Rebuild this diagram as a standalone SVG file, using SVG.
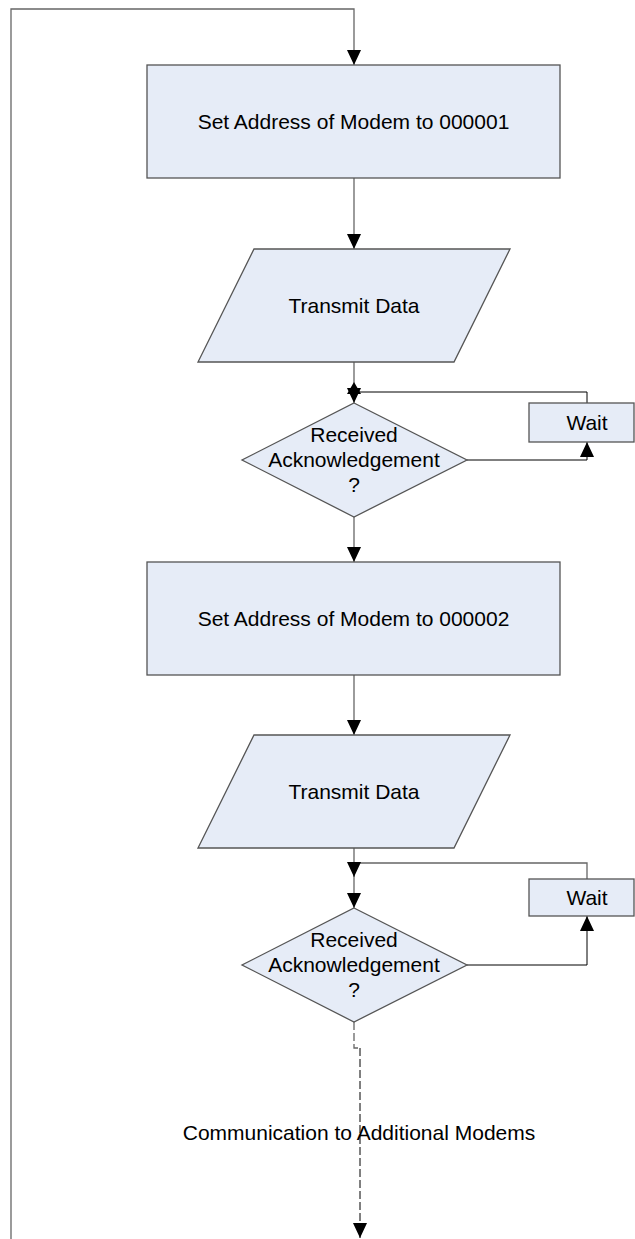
<svg xmlns="http://www.w3.org/2000/svg" width="635" height="1239" viewBox="0 0 635 1239">
<style>
.box{fill:#e6ecf7;stroke:#555;stroke-width:1.3}
.t{font-family:"Liberation Sans",Arial,sans-serif;font-size:21px;fill:#000;text-anchor:middle}
.c{fill:none;stroke:#666;stroke-width:1.3}
.k{fill:none;stroke:#000;stroke-width:1}
.d{fill:none;stroke:#000;stroke-width:1;stroke-dasharray:8,3}
</style>
<defs>
<marker id="arr" markerUnits="userSpaceOnUse" markerWidth="15" markerHeight="14" viewBox="0 0 15 14" refX="15" refY="7" orient="auto">
<path d="M0,0 L15,7 L0,14 z" fill="#000"/>
</marker>
</defs>
<rect width="635" height="1239" fill="#fff"/>
<g id="connectors">
<path class="c" d="M11,1239 V9 H354 V65" marker-end="url(#arr)"/>
<path class="c" d="M354,178 V249" marker-end="url(#arr)"/>
<path class="c" d="M354,362 V403" marker-end="url(#arr)"/>
<path class="k" d="M467,460 H587 V442" marker-end="url(#arr)"/>
<path class="k" d="M587,403 V392 H354"/>
<polygon points="354,382 361,394 347,394" fill="#000"/>
<path class="c" d="M354,517 V562" marker-end="url(#arr)"/>
<path class="c" d="M354,675 V735" marker-end="url(#arr)"/>
<path class="c" d="M354,848 V908" marker-end="url(#arr)"/>
<path class="k" d="M467,965 H587 V916" marker-end="url(#arr)"/>
<path class="c" d="M587,879 V863 H354 V877" marker-end="url(#arr)"/>
<path class="c" d="M354,1022 V1048 H360" stroke-dasharray="8,3"/>
<path class="d" d="M360,1048 V1238" marker-end="url(#arr)"/>
</g>
<g id="set1">
<rect class="box" x="147" y="65" width="413" height="113"/>
<text class="t" x="353.5" y="129">Set Address of Modem to 000001</text>
</g>
<g id="tx1">
<polygon class="box" points="254,249 510,249 454,362 198,362"/>
<text class="t" x="354" y="313">Transmit Data</text>
</g>
<g id="ack1">
<polygon class="box" points="354,403 467,460 354,517 242,460"/>
<text class="t" x="354" y="442">Received</text>
<text class="t" x="354" y="467">Acknowledgement</text>
<text class="t" x="354" y="492">?</text>
</g>
<g id="wait1">
<rect class="box" x="529" y="403" width="105" height="39"/>
<text class="t" x="587" y="430">Wait</text>
</g>
<g id="set2">
<rect class="box" x="147" y="562" width="413" height="113"/>
<text class="t" x="353.5" y="626">Set Address of Modem to 000002</text>
</g>
<g id="tx2">
<polygon class="box" points="254,735 510,735 454,848 198,848"/>
<text class="t" x="354" y="799">Transmit Data</text>
</g>
<g id="ack2">
<polygon class="box" points="354,908 467,965 354,1022 242,965"/>
<text class="t" x="354" y="947">Received</text>
<text class="t" x="354" y="972">Acknowledgement</text>
<text class="t" x="354" y="997">?</text>
</g>
<g id="wait2">
<rect class="box" x="529" y="879" width="105" height="37"/>
<text class="t" x="587" y="905">Wait</text>
</g>
<g id="label">
<text class="t" x="359" y="1140">Communication to Additional Modems</text>
</g>
</svg>
